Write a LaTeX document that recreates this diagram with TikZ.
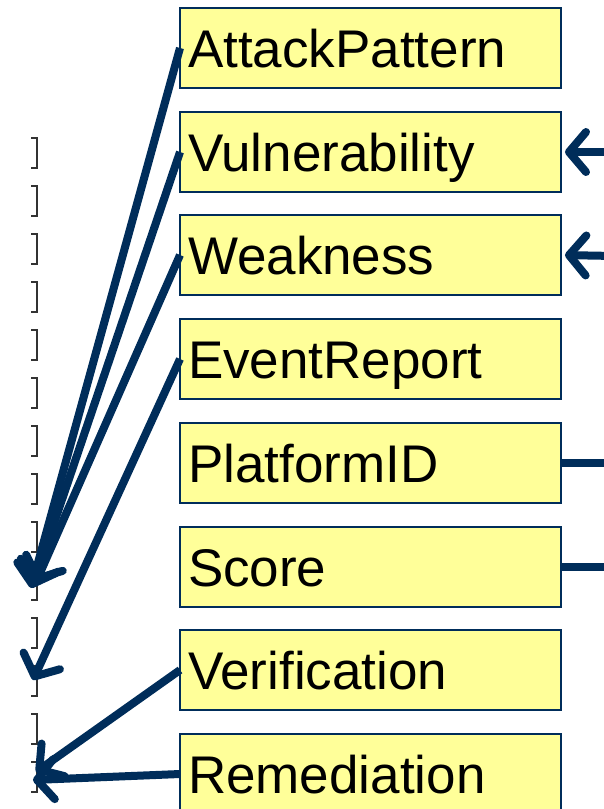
\documentclass[tikz,border=0pt]{standalone}
\usepackage{fontspec}
\setmainfont{Liberation Sans}
\usetikzlibrary{arrows.meta}
\definecolor{navy}{RGB}{0,45,90}
\definecolor{paleyellow}{RGB}{255,255,153}
\tikzset{
  box/.style={draw=navy, line width=1.5pt, fill=paleyellow, anchor=north west,
    minimum width=381pt, minimum height=80pt, text width=365pt, inner sep=8pt,
    outer sep=0pt, align=left, text height=38pt, text depth=0pt,
    font=\fontsize{53}{60}\selectfont},
  link/.style={draw=navy, line width=8pt,
    -{Straight Barb[length=17pt,width=40pt,round]}},
  stub/.style={draw=navy, line width=8pt},
  bracket/.style={draw=black!80, line width=1.8pt}
}
\begin{document}
\begin{tikzpicture}[x=1pt,y=-1pt]
    \useasboundingbox (0,0) rectangle (604,809);

    % brackets on the left
    \foreach \y in {153,201,...,777}
      \draw [bracket] (31,\y-15) -- (37,\y-15) -- (37,\y+15) -- (31,\y+15);

    % class boxes
    \node [box, name=ap] at (180,8) {AttackPattern};
    \node [box, name=vul] at (180,112) {Vulnerability};
    \node [box, name=weak] at (180,215) {Weakness};
    \node [box, name=evt] at (180,319) {EventReport};
    \node [box, name=plat] at (180,423) {PlatformID};
    \node [box, name=score] at (180,527) {Score};
    \node [box, name=verif] at (180,630) {Verification};
    \node [box, name=remed] at (180,734) {Remediation};

    % arrow ends at the brackets
    \coordinate (t1) at (31,588);
    \coordinate (t2) at (33,585);
    \coordinate (t3) at (36,582);
    \coordinate (t4) at (33,680);
    \coordinate (t5) at (36,772);
    \coordinate (t6) at (33,780);
    \draw [link] (ap.west) -- (t1);
    \draw [link] (vul.west) -- (t2);
    \draw [link] (weak.west) -- (t3);
    \draw [link] (evt.west) -- (t4);
    \draw [link] (verif.west) -- (t5);
    \draw [link] (remed.west) -- (t6);

    % links leaving on the right
    \coordinate (r1) at (615,152);
    \coordinate (r2) at (615,256);
    \coordinate (r3) at (615,463);
    \coordinate (r4) at (615,567);
    \draw [link, shorten >=4pt] (r1) -- (vul.east);
    \draw [link, shorten >=4pt] (r2) -- (weak.east);
    \draw [stub] (plat.east) -- (r3);
    \draw [stub] (score.east) -- (r4);
\end{tikzpicture}
\end{document}
